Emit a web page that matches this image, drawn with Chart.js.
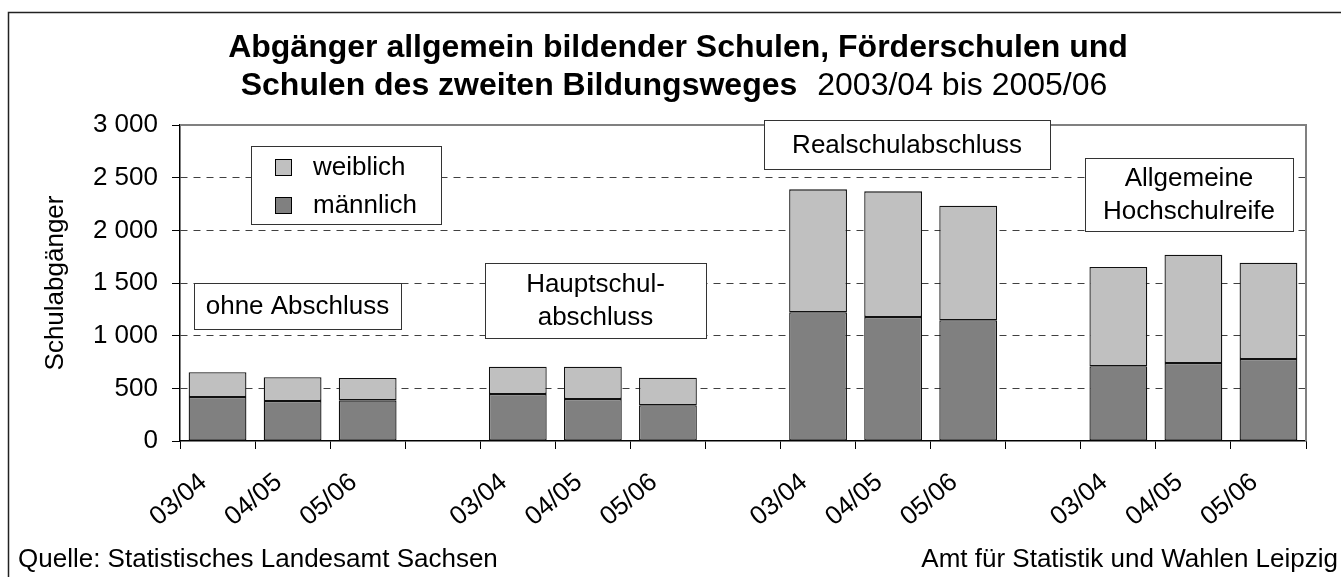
<!DOCTYPE html>
<html lang="de">
<head>
<meta charset="utf-8">
<title>Abgänger allgemein bildender Schulen</title>
<script src="https://cdn.jsdelivr.net/npm/chart.js@4.4.1/dist/chart.umd.min.js"></script>
<style>
  html, body { margin: 0; padding: 0; background: #fff; }
  #wrap { width: 1341px; height: 577px; position: relative; }
</style>
</head>
<body>
<div id="wrap"><canvas id="chart"></canvas></div>
<script>
// ── Daten ──────────────────────────────────────────────────────────────
const years = ['03/04', '04/05', '05/06', '', '03/04', '04/05', '05/06', '', '03/04', '04/05', '05/06', '', '03/04', '04/05', '05/06'];
const maennlich = [418, 380, 386, null, 446, 399, 339, null, 1222, 1177, 1146, null, 709, 740, 778];
const weiblich  = [234, 225, 212, null, 260, 307, 262, null, 1167, 1193, 1088, null, 943, 1029, 915];
const yTicks = [0, 500, 1000, 1500, 2000, 2500, 3000];

const FONT = '"Liberation Sans", Arial, sans-serif';
const COL_M = '#808080';
const COL_W = '#c0c0c0';

// Beschriftungskästen (Gruppennamen)
const groupBoxes = [
  { lines: ['ohne Abschluss'], x: 194, y: 283, w: 207, h: 46 },
  { lines: ['Hauptschul-', 'abschluss'], x: 485, y: 263, w: 221, h: 75 },
  { lines: ['Realschulabschluss'], x: 764, y: 120, w: 286, h: 49 },
  { lines: ['Allgemeine', 'Hochschulreife'], x: 1085, y: 158, w: 208, h: 73 }
];

const fmt = v => String(v).replace(/\B(?=(\d{3})+(?!\d))/g, ' ');

const decoPlugin = {
  id: 'deco',
  beforeDraw(chart) {
    const { ctx, width, height } = chart;
    ctx.save();
    ctx.fillStyle = '#fff';
    ctx.fillRect(0, 0, width, height);
    ctx.restore();
  },
  beforeDatasetsDraw(chart) {
    const { ctx, chartArea: a } = chart;
    ctx.save();
    ctx.strokeStyle = '#808080';
    ctx.lineWidth = 2;
    ctx.beginPath();
    ctx.moveTo(a.left, a.top);
    ctx.lineTo(a.right, a.top);
    ctx.lineTo(a.right, a.bottom);
    ctx.stroke();
    ctx.restore();
  },
  afterDraw(chart) {
    const { ctx, width } = chart;
    ctx.save();

    // äußerer Rahmen (nur links/oben sichtbar)
    ctx.strokeStyle = '#222';
    ctx.lineWidth = 1.5;
    ctx.strokeRect(8.5, 12.5, width + 20, 600);

    // Titel
    ctx.fillStyle = '#000';
    ctx.textBaseline = 'alphabetic';
    ctx.textAlign = 'center';
    ctx.font = 'bold 32px ' + FONT;
    ctx.fillText('Abgänger allgemein bildender Schulen, Förderschulen und', 678, 57);

    const bold = 'Schulen des zweiten Bildungsweges';
    const norm = '2003/04 bis 2005/06';
    ctx.font = 'bold 32px ' + FONT;
    const wb = ctx.measureText(bold).width;
    ctx.font = '32px ' + FONT;
    const wn = ctx.measureText(norm).width;
    const gap = 20;
    let x0 = 674 - (wb + gap + wn) / 2;
    ctx.textAlign = 'left';
    ctx.font = 'bold 32px ' + FONT;
    ctx.fillText(bold, x0, 95);
    ctx.font = '32px ' + FONT;
    ctx.fillText(norm, x0 + wb + gap, 95);

    // Gruppenkästen
    ctx.font = '26px ' + FONT;
    ctx.textAlign = 'center';
    ctx.textBaseline = 'middle';
    groupBoxes.forEach(b => {
      ctx.fillStyle = '#fff';
      ctx.fillRect(b.x, b.y, b.w, b.h);
      ctx.strokeStyle = '#333';
      ctx.lineWidth = 1;
      ctx.strokeRect(b.x + 0.5, b.y + 0.5, b.w, b.h);
      ctx.fillStyle = '#000';
      const lh = 33;
      const cy = b.y + b.h / 2 - (b.lines.length - 1) * lh / 2;
      b.lines.forEach((t, i) => ctx.fillText(t, b.x + b.w / 2, cy + i * lh + 1));
    });

    // Legende
    const ds = chart.data.datasets;
    const lx = 251, ly = 146, lw = 190, lh2 = 78;
    ctx.fillStyle = '#fff';
    ctx.fillRect(lx, ly, lw, lh2);
    ctx.strokeStyle = '#333';
    ctx.strokeRect(lx + 0.5, ly + 0.5, lw, lh2);
    [ds[1], ds[0]].forEach((d, i) => {
      const cy = 167 + i * 38;
      ctx.fillStyle = d.backgroundColor;
      ctx.fillRect(275, cy - 8, 16, 16);
      ctx.strokeStyle = '#000';
      ctx.strokeRect(275.5, cy - 7.5, 16, 16);
      ctx.fillStyle = '#000';
      ctx.textAlign = 'left';
      ctx.fillText(d.label, 313, cy + 1);
    });

    // Quellen
    ctx.textBaseline = 'alphabetic';
    ctx.textAlign = 'left';
    ctx.fillText('Quelle: Statistisches Landesamt Sachsen', 18, 567);
    ctx.textAlign = 'right';
    ctx.fillText('Amt für Statistik und Wahlen Leipzig', 1338, 567);
    ctx.restore();
  }
};

new Chart(document.getElementById('chart'), {
  type: 'bar',
  data: {
    labels: years,
    datasets: [
      { label: 'männlich', data: maennlich, backgroundColor: COL_M, borderColor: '#111', borderWidth: 1.3, borderSkipped: false },
      { label: 'weiblich', data: weiblich, backgroundColor: COL_W, borderColor: '#111', borderWidth: 1.3, borderSkipped: false }
    ]
  },
  options: {
    responsive: true,
    maintainAspectRatio: false,
    animation: false,
    layout: { padding: { top: 125, right: 35, bottom: 36, left: 0 } },
    plugins: { legend: { display: false }, tooltip: { enabled: false } },
    datasets: { bar: { barPercentage: 0.77, categoryPercentage: 1 } },
    scales: {
      x: {
        stacked: true,
        afterFit: s => { s.height = 100; },
        grid: { drawOnChartArea: false, drawTicks: true, tickLength: 8, color: '#000', offset: true },
        border: { color: '#000', width: 1.5 },
        ticks: {
          autoSkip: false, maxRotation: 40, minRotation: 40,
          padding: 18, labelOffset: -14,
          color: '#000', font: { family: FONT, size: 26 }
        }
      },
      y: {
        stacked: true,
        min: 0, max: 3000,
        afterFit: s => { s.width = 180; },
        afterBuildTicks: s => { s.ticks = yTicks.map(v => ({ value: v })); },
        title: { display: true, text: 'Schulabgänger', color: '#000', font: { family: FONT, size: 26 }, padding: { top: 40, bottom: 0 } },
        grid: {
          color: c => (c.tick && (c.tick.value === 0 || c.tick.value === 3000)) ? 'rgba(0,0,0,0)' : '#404040',
          tickColor: '#000', tickLength: 8, tickBorderDash: [], lineWidth: 1
        },
        border: { color: '#000', width: 1.5, dash: [7, 6] },
        ticks: { padding: 14, color: '#000', font: { family: FONT, size: 26 }, callback: v => fmt(v) }
      }
    }
  },
  plugins: [decoPlugin]
});
</script>
</body>
</html>
